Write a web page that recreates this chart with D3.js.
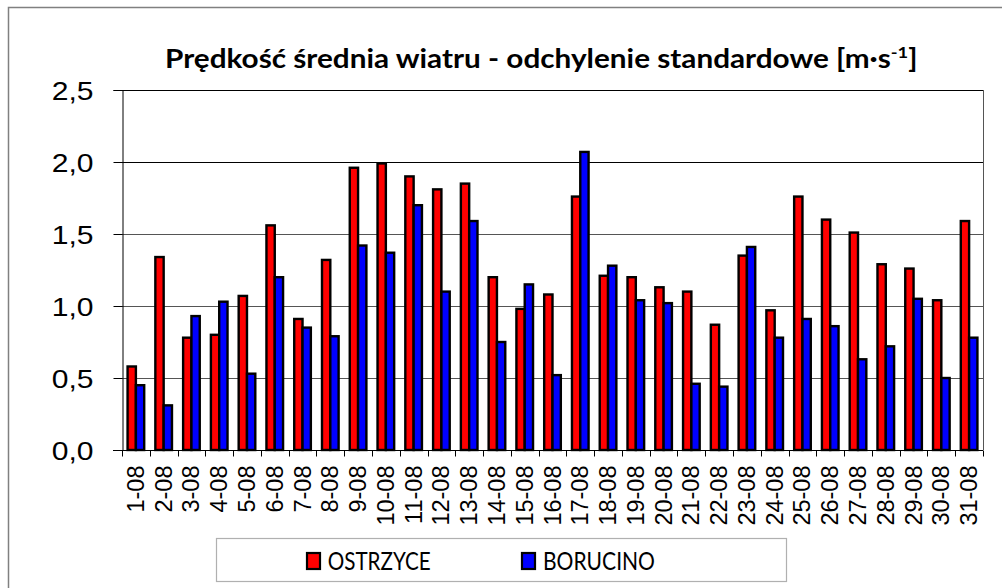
<!DOCTYPE html>
<html>
<head>
<meta charset="utf-8">
<script src="https://cdn.jsdelivr.net/npm/d3@7"></script>
<style>
  html, body { margin: 0; padding: 0; background: #fff; }
  svg { display: block; }
</style>
</head>
<body>
<svg id="chart" width="1002" height="588"></svg>
<script>
// Daily wind speed standard deviation, August, two stations
const days = ["1-08","2-08","3-08","4-08","5-08","6-08","7-08","8-08","9-08","10-08",
  "11-08","12-08","13-08","14-08","15-08","16-08","17-08","18-08","19-08","20-08",
  "21-08","22-08","23-08","24-08","25-08","26-08","27-08","28-08","29-08","30-08","31-08"];
const ostrzyce = [0.58,1.34,0.78,0.80,1.07,1.56,0.91,1.32,1.96,1.99,1.90,1.81,1.85,1.20,0.98,1.08,
  1.76,1.21,1.20,1.13,1.10,0.87,1.35,0.97,1.76,1.60,1.51,1.29,1.26,1.04,1.59];
const borucino = [0.45,0.31,0.93,1.03,0.53,1.20,0.85,0.79,1.42,1.37,1.70,1.10,1.59,0.75,1.15,0.52,
  2.07,1.28,1.04,1.02,0.46,0.44,1.41,0.78,0.91,0.86,0.63,0.72,1.05,0.50,0.78];
const seriesNames = ["OSTRZYCE", "BORUCINO"];
const seriesColors = ["#ff0000", "#0000ff"];
const yTicks = [0, 0.5, 1.0, 1.5, 2.0, 2.5];

const rows = days.map((d, i) => ({ day: d, values: [ostrzyce[i], borucino[i]] }));

const svg = d3.select("#chart");
const plot = { left: 122, right: 983, top: 90, bottom: 450 };

// Outer chart frame (runs off the right and bottom edges)
svg.append("rect")
  .attr("x", 8.5).attr("y", 7.5).attr("width", 1010).attr("height", 600)
  .attr("fill", "none").attr("stroke", "#808080").attr("stroke-width", 1.5);

const x = d3.scaleBand().domain(days).range([plot.left, plot.right]).paddingInner(0).paddingOuter(0);
const x1 = d3.scaleBand().domain(seriesNames).range([0, x.bandwidth()]).paddingInner(0).paddingOuter(0.67);
const y = d3.scaleLinear().domain([0, 2.5]).range([plot.bottom, plot.top]);

const locale = d3.formatLocale({ decimal: ",", thousands: " ", grouping: [3], currency: ["", " zł"] });
const fmt = locale.format(".1f");

// Horizontal gridlines
svg.append("g").selectAll("line").data(yTicks.filter(t => t > 0)).join("line")
  .attr("x1", plot.left).attr("x2", plot.right)
  .attr("y1", d => Math.round(y(d)) + 0.5).attr("y2", d => Math.round(y(d)) + 0.5)
  .attr("stroke", d => d >= 2 ? "#000" : "#555").attr("stroke-width", 1);

// Right edge of plot area
svg.append("line")
  .attr("x1", plot.right + 0.5).attr("x2", plot.right + 0.5)
  .attr("y1", plot.top).attr("y2", plot.bottom)
  .attr("stroke", "#555");

// Bars
const groups = svg.append("g").selectAll("g").data(rows).join("g")
  .attr("transform", d => `translate(${x(d.day)},0)`);
groups.selectAll("rect").data(d => d.values.map((v, i) => ({ v, i }))).join("rect")
  .attr("x", d => x1(seriesNames[d.i]))
  .attr("width", x1.bandwidth())
  .attr("y", d => y(d.v))
  .attr("height", d => y(0) - y(d.v))
  .attr("fill", d => seriesColors[d.i])
  .attr("stroke", "#000").attr("stroke-width", 2.4);

// Y axis
const yAxis = svg.append("g")
  .attr("transform", `translate(${plot.left + 0.5},0)`)
  .call(d3.axisLeft(y).tickValues(yTicks).tickFormat(fmt).tickSize(9).tickPadding(20));
yAxis.select(".domain").attr("stroke", "#000");
yAxis.selectAll(".tick line").attr("stroke", "#000");
yAxis.selectAll(".tick text")
  .attr("x", 0)
  .attr("font-family", "'Liberation Sans', Arial, sans-serif")
  .attr("font-size", 25.5).attr("fill", "#000")
  .attr("dy", "0.36em")
  .attr("transform", "translate(-29,0) scale(1.18,1)");

// X axis: ticks between categories
const xAxisG = svg.append("g").attr("transform", `translate(0,${plot.bottom + 0.5})`);
xAxisG.append("line").attr("x1", plot.left - 9).attr("x2", plot.right)
  .attr("stroke", "#000");
const bounds = days.map(d => x(d)).concat([plot.right]);
xAxisG.selectAll("line.tk").data(bounds).join("line").attr("class", "tk")
  .attr("x1", d => Math.round(d) + 0.5).attr("x2", d => Math.round(d) + 0.5)
  .attr("y1", 0).attr("y2", 6).attr("stroke", "#000");
xAxisG.selectAll("text").data(days).join("text")
  .attr("transform", d => `translate(${x(d) + x.bandwidth() / 2 + 8},15) rotate(-90)`)
  .attr("text-anchor", "end")
  .attr("font-family", "'Liberation Sans', Arial, sans-serif")
  .attr("font-size", 23.5).attr("fill", "#000")
  .text(d => d);

// Title
const title = svg.append("text")
  .attr("font-family", "Lato, 'Open Sans', sans-serif")
  .attr("font-weight", "bold").attr("font-size", 26).attr("fill", "#000");
title.append("tspan").text("Prędkość średnia wiatru - odchylenie standardowe [m·s");
title.append("tspan").attr("baseline-shift", "super").attr("font-size", 16).text("-1");
title.append("tspan").text("]");
{
  const target = 753, cx = 541.5, base = 67.7;
  const w = title.node().getComputedTextLength();
  const k = target / w;
  title.attr("transform", `translate(${cx - target / 2},${base}) scale(${k},1)`);
}

// Legend
const legend = svg.append("g");
legend.append("rect").attr("x", 216.5).attr("y", 538.5).attr("width", 570).attr("height", 43)
  .attr("fill", "#fff").attr("stroke", "#b0b0b0").attr("stroke-width", 1.2);
const legendItems = [
  { name: seriesNames[0], color: seriesColors[0], sx: 307, tx: 327.7, tw: 103 },
  { name: seriesNames[1], color: seriesColors[1], sx: 522, tx: 543, tw: 112 }
];
legendItems.forEach(it => {
  legend.append("rect").attr("x", it.sx).attr("y", 553).attr("width", 13).attr("height", 16)
    .attr("fill", it.color).attr("stroke", "#000").attr("stroke-width", 2.2);
  const t = legend.append("text")
    .attr("font-family", "Lato, 'Open Sans', sans-serif")
    .attr("font-size", 25).attr("fill", "#000").text(it.name);
  const w = t.node().getComputedTextLength();
  t.attr("transform", `translate(${it.tx},569.5) scale(${it.tw / w},1)`);
});
</script>
</body>
</html>
